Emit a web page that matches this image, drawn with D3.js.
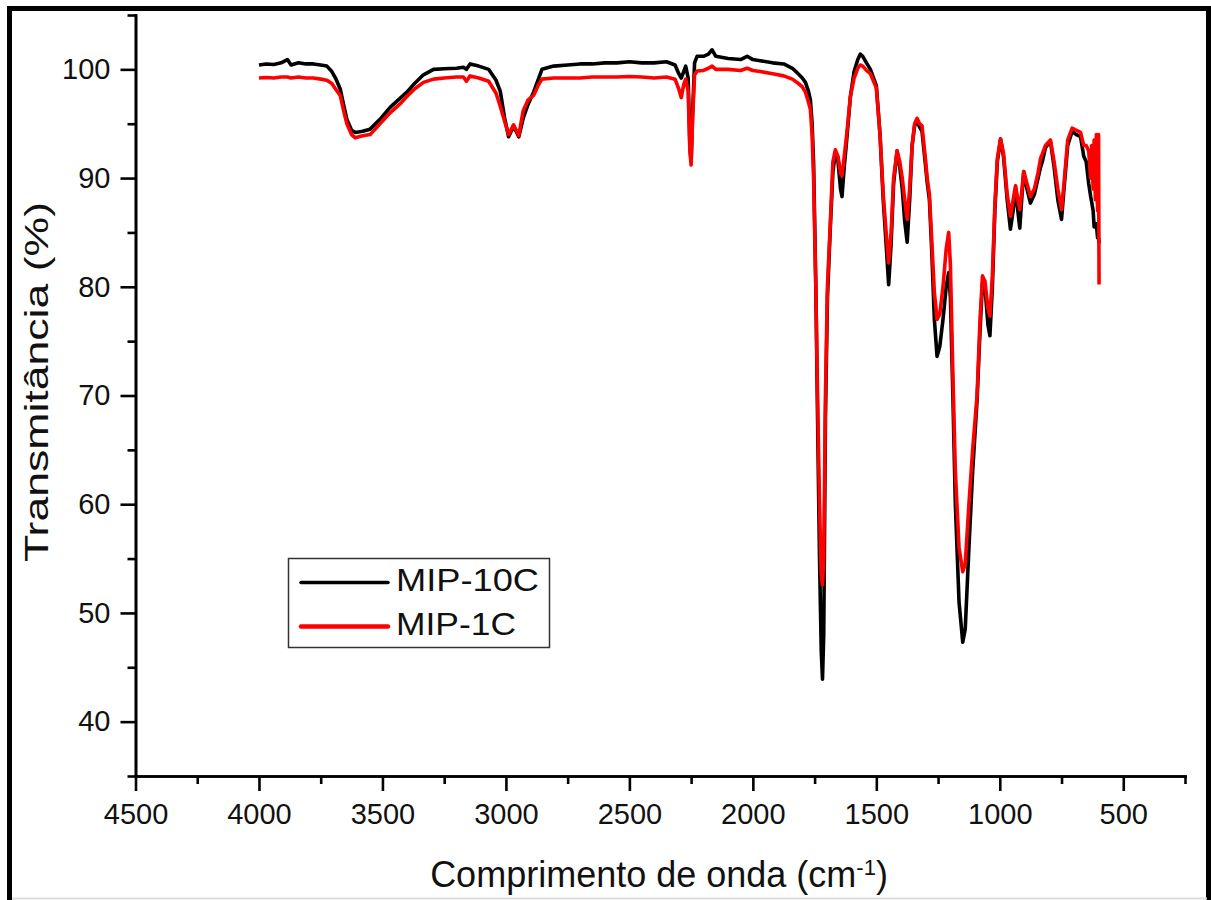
<!DOCTYPE html>
<html>
<head>
<meta charset="utf-8">
<script src="https://cdn.jsdelivr.net/npm/d3@7"></script>
<style>
  body { margin: 0; background: #fff; }
  text { font-family: "Liberation Sans", Arial, sans-serif; fill: #111; }
</style>
</head>
<body>
<div id="chart"></div>
<script>
// wavenumber (cm-1)
const wavenumber = [4000,3970,3940,3910,3885,3870,3840,3810,3780,3750,3725,3705,3690,3671,3655,3644,3625,3610,3580,3550,
  3510,3469,3430,3401,3370,3334,3293,3250,3200,3172,3160,3145,3110,3070,3040,3023,3005,2989,2969,2948,
  2930,2910,2888,2870,2854,2807,2750,2700,2650,2600,2550,2500,2450,2400,2350,2315,2300,2290,2280,2272,
  2262,2255,2250,2244,2236,2226,2200,2180,2165,2150,2100,2050,2023,2000,1970,1920,1875,1840,1821,1800,
  1787,1775,1767,1760,1754,1745,1738,1730,1723,1718,1713,1706,1698,1686,1676,1666,1655,1645,1639,1630,
  1620,1605,1590,1575,1565,1555,1540,1524,1500,1485,1472,1462,1450,1440,1430,1416,1405,1395,1385,1375,
  1365,1355,1345,1335,1325,1315,1300,1294,1285,1275,1265,1254,1243,1230,1217,1207,1200,1190,1180,1165,
  1150,1140,1125,1110,1092,1080,1070,1060,1048,1040,1030,1020,1010,997,985,970,957,946,936,927,
  919,910,903,890,876,860,845,835,828,815,795,780,765,750,740,725,707,690,673,660,
  650,640,632,628,622,618,613,609,604,600,598];

// MIP-10C transmittance (%)
const mip10c = [100.4,100.5,100.45,100.6,100.9,100.4,100.6,100.5,100.5,100.4,100.3,99.8,99.2,98.2,96.5,95.4,94.4,94.2,94.3,94.5,
  95.4,96.5,97.3,97.9,98.7,99.5,100.0,100.05,100.1,100.2,100.0,100.5,100.3,100.0,99.0,98.0,95.5,93.8,94.8,93.8,
  95.5,96.8,97.9,99.0,100.0,100.3,100.4,100.5,100.5,100.6,100.6,100.7,100.6,100.6,100.7,100.4,99.6,99.2,99.8,100.3,
  99.2,93.0,91.5,96.0,100.6,101.2,101.2,101.4,101.8,101.2,101.0,100.9,101.2,100.9,100.8,100.6,100.5,100.1,99.7,99.2,
  98.8,98.0,97.2,95.0,91.4,80.0,68.0,55.0,46.5,43.9,48.0,68.0,79.0,85.6,90.5,92.4,91.5,89.0,88.3,91.0,
  93.5,97.5,99.8,100.9,101.4,101.2,100.6,100.0,98.5,94.0,88.0,84.5,80.2,84.0,89.5,92.5,91.0,89.0,86.0,84.1,
  88.0,93.0,94.8,95.2,94.7,94.3,91.0,89.6,88.0,83.0,77.0,73.6,74.5,77.0,80.0,81.3,79.0,70.0,60.0,51.0,
  47.3,48.5,56.0,63.0,69.6,76.0,80.4,80.0,76.5,75.5,80.0,87.0,91.5,93.6,92.0,88.0,85.3,87.0,89.1,87.0,
  85.4,88.5,90.6,89.0,87.7,88.5,90.0,91.0,91.5,92.8,93.4,91.0,88.0,86.2,89.0,93.0,94.3,94.0,93.8,92.0,
  91.5,89.5,88.3,87.8,87.0,85.5,85.5,85.8,84.5,84.5,84.0];

// MIP-1C transmittance (%)
const mip1c = [99.2,99.25,99.2,99.3,99.3,99.2,99.3,99.2,99.2,99.1,99.0,98.7,98.2,97.6,96.0,95.0,94.0,93.7,93.9,94.0,
  95.0,96.0,96.8,97.5,98.2,98.8,99.1,99.2,99.3,99.3,98.9,99.4,99.2,98.9,97.8,96.6,95.2,94.0,94.9,93.9,
  96.2,97.2,97.6,98.5,99.1,99.2,99.2,99.2,99.3,99.3,99.3,99.35,99.3,99.2,99.3,99.1,98.2,97.4,98.6,99.1,
  98.0,92.5,91.2,95.5,99.5,99.85,99.9,100.1,100.3,100.0,100.0,99.9,100.1,99.9,99.8,99.6,99.4,99.1,98.8,98.4,
  97.9,97.0,96.3,94.0,89.9,80.0,70.0,60.0,53.5,52.6,55.0,70.0,80.0,86.0,91.5,92.6,92.0,90.5,90.2,92.0,
  94.0,97.5,99.2,100.1,100.4,100.3,99.9,99.6,98.3,94.0,88.5,85.5,82.2,85.0,90.0,92.5,91.5,90.0,88.0,86.2,
  89.0,93.0,95.0,95.5,95.0,94.8,91.5,90.0,88.5,84.0,79.5,77.0,77.5,80.0,83.5,85.0,82.0,72.0,63.0,56.0,
  53.8,54.5,60.0,65.0,70.0,77.0,81.0,80.5,78.0,77.3,81.0,87.5,91.8,93.6,92.3,88.5,86.5,88.0,89.3,88.0,
  87.1,89.0,90.6,89.5,88.3,89.0,90.5,91.8,92.2,93.0,93.5,91.5,89.0,87.1,89.5,93.5,94.6,94.4,94.2,93.0,
  93.0,92.5,90.0,93.0,89.0,93.5,88.0,94.0,87.0,94.0,80.2];

const seriesNames = ["MIP-10C", "MIP-1C"];
const seriesColors = ["#000000", "#ff0000"];
const xTickValues = [4500,4000,3500,3000,2500,2000,1500,1000,500];
const xMinorValues = [4250,3750,3250,2750,2250,1750,1250,750,250];
const yTickValues = [40,50,60,70,80,90,100];
const yMinorValues = [35,45,55,65,75,85,95,105];

const W = 1211, H = 900;
const svg = d3.select("#chart").append("svg")
  .attr("width", W).attr("height", H);

// outer frame (bottom edge is cut off in the original)
svg.append("rect")
  .attr("x", 9.5).attr("y", 8.5).attr("width", 1199).attr("height", 1000)
  .attr("fill", "none").attr("stroke", "#000").attr("stroke-width", 5);
svg.append("line")
  .attr("x1", 12).attr("x2", 1207).attr("y1", 898.5).attr("y2", 898.5)
  .attr("stroke", "#ddd").attr("stroke-width", 2);

const x = d3.scaleLinear().domain([4500, 250]).range([135.5, 1185]);
const y = d3.scaleLinear().domain([35, 105]).range([776, 15]);

function styleAxis(g) {
  g.selectAll("path, line").attr("stroke", "#000").attr("stroke-width", 2.6);
  g.select(".domain").attr("stroke-linecap", "square");
}

// x axis: major + minor
svg.append("g")
  .attr("transform", "translate(0,776)")
  .call(d3.axisBottom(x).tickValues(xMinorValues).tickSize(8).tickSizeOuter(0).tickFormat(""))
  .call(styleAxis);
const gx = svg.append("g")
  .attr("transform", "translate(0,776)")
  .call(d3.axisBottom(x).tickValues(xTickValues).tickSize(15).tickSizeOuter(0).tickPadding(12).tickFormat(d3.format("d")))
  .call(styleAxis);
gx.selectAll("text").attr("font-size", 29).attr("fill", "#111")
  .attr("font-family", "Liberation Sans, Arial, sans-serif");

// y axis: major + minor
svg.append("g")
  .attr("transform", "translate(135.5,0)")
  .call(d3.axisLeft(y).tickValues(yMinorValues).tickSize(8).tickSizeOuter(0).tickFormat(""))
  .call(styleAxis);
const gy = svg.append("g")
  .attr("transform", "translate(135.5,0)")
  .call(d3.axisLeft(y).tickValues(yTickValues).tickSize(15).tickSizeOuter(0).tickPadding(10).tickFormat(d3.format("d")))
  .call(styleAxis);
gy.selectAll("text").attr("font-size", 29).attr("fill", "#111")
  .attr("font-family", "Liberation Sans, Arial, sans-serif");

// spectra
const line = d3.line()
  .x((d, i) => x(wavenumber[i]))
  .y(d => y(d));

[mip10c, mip1c].forEach((vals, k) => {
  svg.append("path")
    .datum(vals)
    .attr("d", line)
    .attr("fill", "none")
    .attr("stroke", seriesColors[k])
    .attr("stroke-width", 3.6)
    .attr("stroke-linejoin", "round");
});

// axis titles
svg.append("text")
  .attr("x", 659).attr("y", 887)
  .attr("text-anchor", "middle")
  .attr("font-size", 36)
  .text("Comprimento de onda (cm")
  .append("tspan").attr("baseline-shift", "super").attr("font-size", 22).text("-1")
  .select(function() { return this.parentNode; })
  .append("tspan").text(")");

svg.append("text")
  .attr("transform", "translate(48,382) rotate(-90)")
  .attr("text-anchor", "middle")
  .attr("font-size", 34)
  .attr("textLength", 360)
  .attr("lengthAdjust", "spacingAndGlyphs")
  .text("Transmitância (%)");

// legend
const legend = svg.append("g");
legend.append("rect")
  .attr("x", 288.5).attr("y", 558.5).attr("width", 261).attr("height", 89)
  .attr("fill", "#fff").attr("stroke", "#333").attr("stroke-width", 1.5);
seriesNames.forEach((name, i) => {
  const yy = 582.5 + i * 44;
  legend.append("line")
    .attr("x1", 301).attr("x2", 388).attr("y1", yy).attr("y2", yy)
    .attr("stroke", seriesColors[i]).attr("stroke-width", i === 0 ? 3.5 : 4.5)
    .attr("stroke-linecap", "round");
  legend.append("text")
    .attr("x", 396).attr("y", yy + 8)
    .attr("font-size", 31)
    .attr("textLength", i === 0 ? 143 : 120)
    .attr("lengthAdjust", "spacingAndGlyphs")
    .text(name);
});
</script>
</body>
</html>
